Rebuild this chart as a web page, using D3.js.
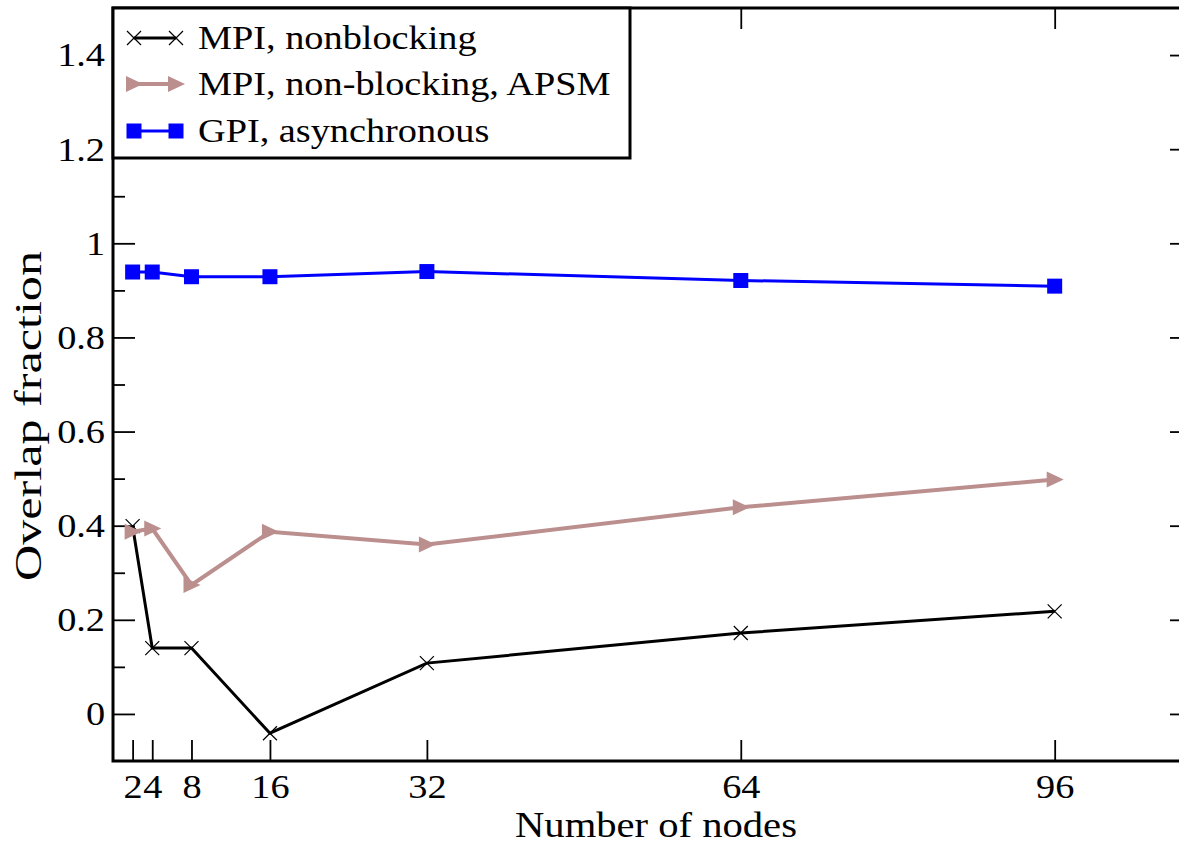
<!DOCTYPE html>
<html>
<head>
<meta charset="utf-8">
<script src="https://cdn.jsdelivr.net/npm/d3@7"></script>
<style>
  body { margin: 0; background: #fff; }
  text { font-family: "Liberation Serif", "Times New Roman", serif; fill: #000; }
</style>
</head>
<body>
<svg id="chart" width="1179" height="844"></svg>
<script>
// data
let nodes = [2, 4, 8, 16, 32, 64, 96];
let mpiNonblocking = [0.399, 0.140, 0.140, -0.041, 0.108, 0.172, 0.218];
let mpiApsm = [0.387, 0.394, 0.274, 0.387, 0.360, 0.439, 0.498];
let gpiAsync = [0.939, 0.939, 0.929, 0.929, 0.940, 0.921, 0.909];
let seriesNames = ["MPI, nonblocking", "MPI, non-blocking, APSM", "GPI, asynchronous"];
let xTicks = [2, 4, 8, 16, 32, 64, 96];
let yMajorTicks = [0, 0.2, 0.4, 0.6, 0.8, 1, 1.2, 1.4];
let yMinorTicks = [0.1, 0.3, 0.5, 0.7, 0.9, 1.1, 1.3];

let colors = ["#000000", "#bc8f8f", "#0000ff"];
let stretchK = 1.16; // glyphs in the original are a bit wider than Times

let svg = d3.select("#chart");
let plotLeft = 113, plotRight = 1192, plotTop = 8, plotBottom = 761;

let x = d3.scaleLinear().domain([0, 110]).range([plotLeft, plotRight]);
let y = d3.scaleLinear().domain([-0.1, 1.5]).range([plotBottom, plotTop]);

function stretch(sel, k) {
  sel.each(function() {
    let w = this.getComputedTextLength();
    d3.select(this).attr("textLength", w * k).attr("lengthAdjust", "spacingAndGlyphs");
  });
}

function styleAxis(g) {
  g.select(".domain").remove();
  g.selectAll(".tick line").attr("stroke", "#000").attr("stroke-width", 1.8);
}

// left axis (major + minor)
let gLeft = svg.append("g").attr("transform", `translate(${plotLeft},0)`)
  .call(d3.axisLeft(y).tickValues(yMajorTicks).tickSizeInner(-22).tickSizeOuter(0).tickPadding(8)
    .tickFormat(d3.format("")));
styleAxis(gLeft);
gLeft.attr("font-family", null).attr("font-size", null);
gLeft.selectAll(".tick text").attr("font-size", 33).attr("dy", "0.33em");
stretch(gLeft.selectAll(".tick text"), stretchK);

let gLeftMinor = svg.append("g").attr("transform", `translate(${plotLeft},0)`)
  .call(d3.axisLeft(y).tickValues(yMinorTicks).tickSizeInner(-12).tickSizeOuter(0).tickFormat(""));
styleAxis(gLeftMinor);

// right axis
let gRight = svg.append("g").attr("transform", `translate(${plotRight},0)`)
  .call(d3.axisRight(y).tickValues(yMajorTicks).tickSizeInner(-22).tickSizeOuter(0).tickFormat(""));
styleAxis(gRight);
let gRightMinor = svg.append("g").attr("transform", `translate(${plotRight},0)`)
  .call(d3.axisRight(y).tickValues(yMinorTicks).tickSizeInner(-12).tickSizeOuter(0).tickFormat(""));
styleAxis(gRightMinor);

// bottom axis
let gBottom = svg.append("g").attr("transform", `translate(0,${plotBottom})`)
  .call(d3.axisBottom(x).tickValues(xTicks).tickSizeInner(-21).tickSizeOuter(0).tickPadding(14)
    .tickFormat(d3.format("d")));
styleAxis(gBottom);
gBottom.attr("font-family", null).attr("font-size", null);
gBottom.selectAll(".tick text").attr("font-size", 33);
stretch(gBottom.selectAll(".tick text"), stretchK);

// top axis
let gTop = svg.append("g").attr("transform", `translate(0,${plotTop})`)
  .call(d3.axisTop(x).tickValues(xTicks).tickSizeInner(-21).tickSizeOuter(0).tickFormat(""));
styleAxis(gTop);

// frame
svg.append("rect")
  .attr("x", plotLeft).attr("y", plotTop)
  .attr("width", plotRight - plotLeft).attr("height", plotBottom - plotTop)
  .attr("fill", "none").attr("stroke", "#000").attr("stroke-width", 3);

// series
let series = [mpiNonblocking, mpiApsm, gpiAsync].map((vals, i) => ({
  name: seriesNames[i],
  color: colors[i],
  points: nodes.map((n, j) => ({ n: n, v: vals[j] }))
}));
let lineWidths = [3, 4, 3];

let line = d3.line().x(d => x(d.n)).y(d => y(d.v));

let markerPaths = [
  "M-7,-7L7,7M-7,7L7,-7",
  "M-8,-8L9,0L-8,8Z",
  "M-7.5,-7.5H7.5V7.5H-7.5Z"
];

function drawMarker(g, i, cx, cy) {
  let p = g.append("path")
    .attr("d", markerPaths[i])
    .attr("transform", `translate(${cx},${cy})`);
  if (i === 0) {
    p.attr("fill", "none").attr("stroke", colors[i]).attr("stroke-width", 1.2);
  } else {
    p.attr("fill", colors[i]).attr("stroke", "none");
  }
}

series.forEach((s, i) => {
  let g = svg.append("g").attr("class", "series");
  g.append("path")
    .datum(s.points)
    .attr("d", line)
    .attr("fill", "none")
    .attr("stroke", s.color)
    .attr("stroke-width", lineWidths[i])
    .attr("stroke-linejoin", "miter");
  s.points.forEach(d => drawMarker(g, i, x(d.n), y(d.v)));
});

// legend
let legend = svg.append("g").attr("class", "legend");
legend.append("rect")
  .attr("x", plotLeft).attr("y", plotTop)
  .attr("width", 630 - plotLeft).attr("height", 158 - plotTop)
  .attr("fill", "#fff").attr("stroke", "#000").attr("stroke-width", 3);

let legendRows = [38, 84, 131];
series.forEach((s, i) => {
  let ly = legendRows[i];
  legend.append("line")
    .attr("x1", 134).attr("x2", 176)
    .attr("y1", ly).attr("y2", ly)
    .attr("stroke", s.color).attr("stroke-width", lineWidths[i]);
  drawMarker(legend, i, 134, ly);
  drawMarker(legend, i, 176, ly);
  legend.append("text")
    .attr("x", 198).attr("y", ly + 11)
    .attr("font-size", 33)
    .text(s.name);
});
stretch(legend.selectAll("text"), stretchK);

// axis titles
let xTitle = svg.append("text")
  .attr("x", 656).attr("y", 837)
  .attr("text-anchor", "middle")
  .attr("font-size", 35)
  .text("Number of nodes");
stretch(xTitle, stretchK);

svg.append("text")
  .attr("transform", "translate(41,416) rotate(-90)")
  .attr("text-anchor", "middle")
  .attr("font-size", 38)
  .attr("textLength", 330)
  .attr("lengthAdjust", "spacingAndGlyphs")
  .text("Overlap fraction");
</script>
</body>
</html>
